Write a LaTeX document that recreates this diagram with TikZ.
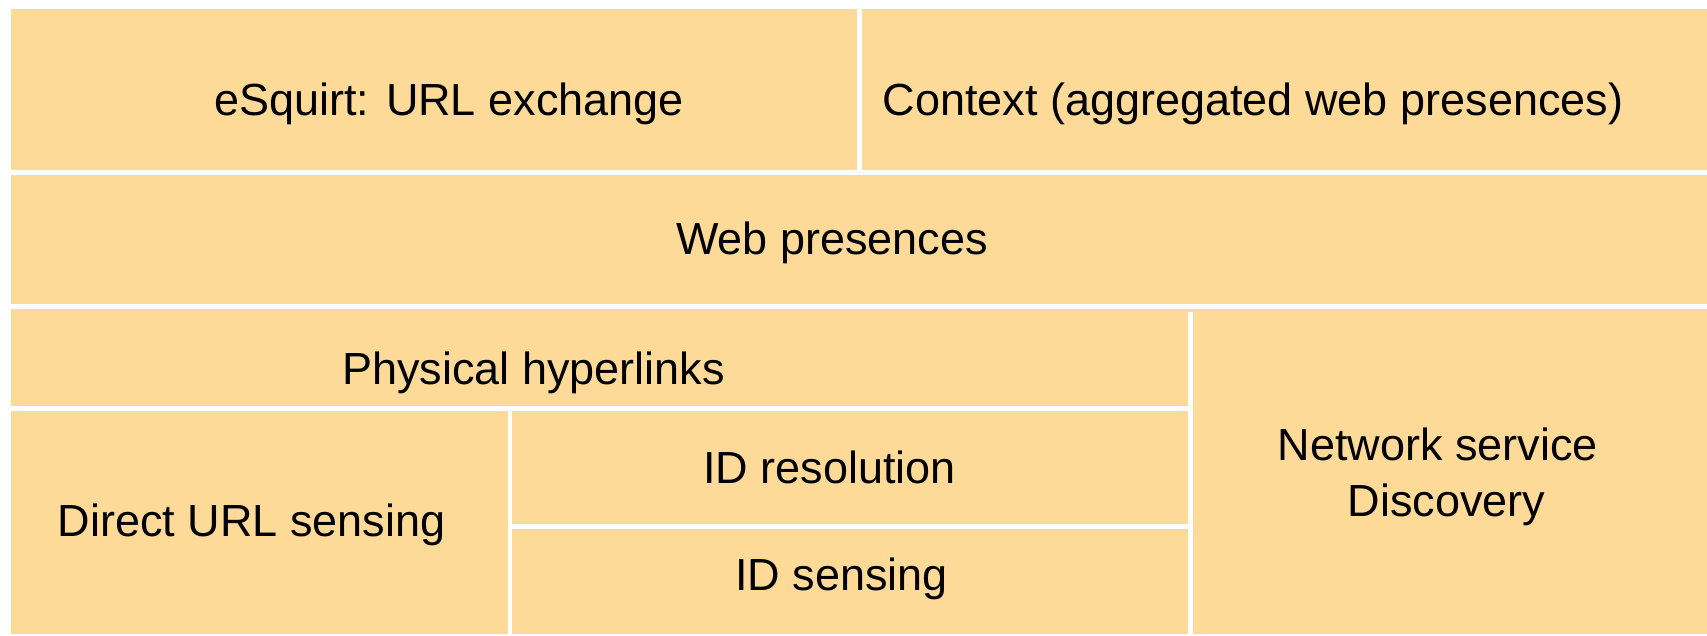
\documentclass[tikz,border=0pt]{standalone}
\usepackage{fontspec}
\setmainfont{Liberation Sans}
\definecolor{boxfill}{RGB}{254,218,152}
\begin{document}
\begin{tikzpicture}[x=1pt,y=-1pt,
  box/.style={fill=boxfill,draw=none,inner sep=0pt,outer sep=0pt},
  lbl/.style={anchor=base,inner sep=0pt,font=\fontsize{45}{53}\selectfont,text=black}]
\useasboundingbox (0,0) rectangle (1707,635);
% boxes: centre, size
\node[box,minimum width=846pt,minimum height=161pt] (esq) at (434,89.5) {};
\node[box,minimum width=845pt,minimum height=161pt] (ctx) at (1284.5,89.5) {};
\node[box,minimum width=1696pt,minimum height=129.5pt] (web) at (859,239.25) {};
\node[box,minimum width=1177pt,minimum height=97.5pt] (phys) at (599.5,357.25) {};
\node[box,minimum width=497pt,minimum height=223.3pt] (direct) at (259.5,522.35) {};
\node[box,minimum width=675.7pt,minimum height=113.3pt] (idres) at (850.15,467.35) {};
\node[box,minimum width=675.7pt,minimum height=105.3pt] (idsens) at (850.15,581.35) {};
\node[box,minimum width=514.5pt,minimum height=325.5pt] (net) at (1449.75,471.25) {};
\node[box,minimum width=5pt,minimum height=3.5pt] (joint) at (1190.5,310.25) {};
% labels
\node[lbl] (tesq) at (449,115) {eSquirt: URL exchange};
\node[lbl] (tctx) at (1253,115) {Context (aggregated web presences)};
\node[lbl] (tweb) at (832,254) {Web presences};
\node[lbl] (tphys) at (533.5,384) {Physical hyperlinks};
\node[lbl] (tdirect) at (251.5,536.5) {Direct URL sensing};
\node[lbl] (tidres) at (829.6,483) {ID resolution};
\node[lbl] (tidsens) at (841.6,590) {ID sensing};
\node[lbl] (tnet1) at (1437.6,460.5) {Network service};
\node[lbl] (tnet2) at (1446.4,516) {Discovery};
\end{tikzpicture}
\end{document}
